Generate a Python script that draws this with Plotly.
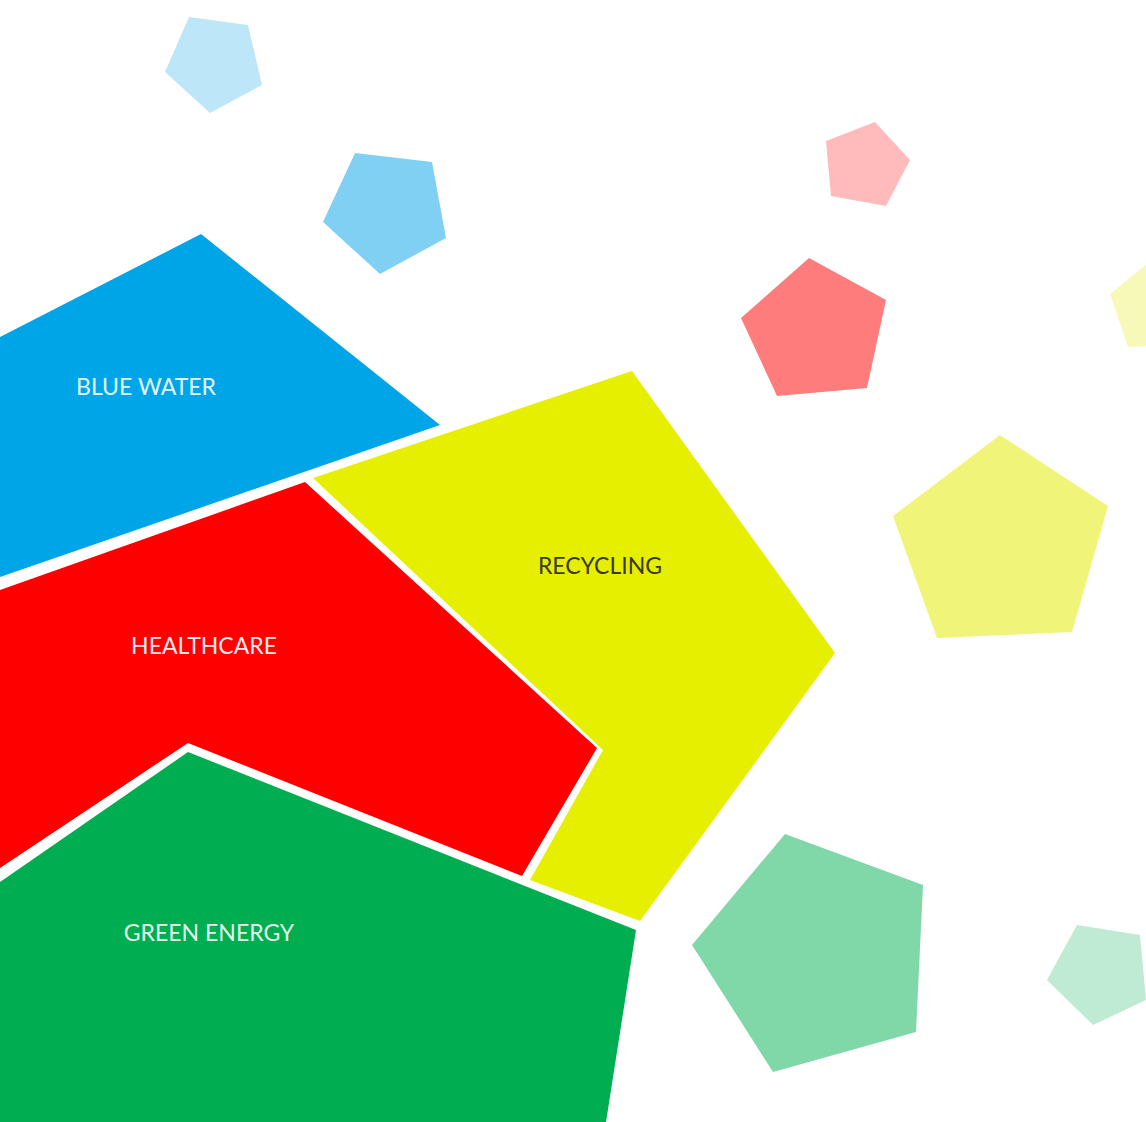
import plotly.graph_objects as go

# Main labelled shapes (vertex x / y in image units)
blue_x = [0, 201, 440, 0]
blue_y = [337, 234, 425, 577]
red_x = [0, 305, 597, 522, 188, 0]
red_y = [590, 482, 748, 876, 743, 868]
yellow_x = [313, 632, 835, 640, 530, 603]
yellow_y = [478, 371, 653, 921, 880, 750]
green_x = [0, 188, 636, 606, 0]
green_y = [882, 752, 930, 1122, 1122]

# Decorative pentagons
p_lightblue_x = [189, 248, 262, 210, 165]
p_lightblue_y = [17, 25, 85, 113, 72]
p_blue_x = [355, 432, 446, 380, 323]
p_blue_y = [153, 162, 238, 274, 222]
p_pink_x = [826, 875, 910, 886, 831]
p_pink_y = [141, 122, 160, 206, 196]
p_red_x = [741, 809, 886, 867, 777]
p_red_y = [318, 258, 300, 388, 396]
p_yellowedge_x = [1110, 1146, 1146, 1128]
p_yellowedge_y = [294, 265, 346, 347]
p_yellow_x = [893, 1000, 1108, 1072, 937]
p_yellow_y = [516, 435, 506, 632, 638]
p_green_x = [692, 785, 923, 916, 773]
p_green_y = [945, 834, 885, 1032, 1072]
p_mint_x = [1047, 1077, 1140, 1146, 1093]
p_mint_y = [980, 925, 935, 1000, 1025]

labels = ["BLUE WATER", "HEALTHCARE", "RECYCLING", "GREEN ENERGY"]
label_x = [146, 204, 600, 209]
label_y = [389, 648, 568, 935]
label_colors = ["#e3f5fc", "#ffeaea", "#3a3a1a", "#e2f6e9"]

shapes = [
    (p_lightblue_x, p_lightblue_y, "#bde6f8"),
    (p_blue_x, p_blue_y, "#80d0f4"),
    (p_pink_x, p_pink_y, "#ffbbbb"),
    (p_red_x, p_red_y, "#ff7c7c"),
    (p_yellowedge_x, p_yellowedge_y, "#f6f9b8"),
    (p_yellow_x, p_yellow_y, "#f0f57a"),
    (p_green_x, p_green_y, "#80d7a8"),
    (p_mint_x, p_mint_y, "#bfead3"),
    (blue_x, blue_y, "#00a5e8"),
    (red_x, red_y, "#ff0000"),
    (yellow_x, yellow_y, "#e6ef00"),
    (green_x, green_y, "#00ad50"),
]

fig = go.Figure()
for xs, ys, col in shapes:
    fig.add_trace(go.Scatter(
        x=xs + [xs[0]], y=ys + [ys[0]], mode="lines", fill="toself",
        fillcolor=col, line=dict(width=0, color=col), hoverinfo="skip",
        showlegend=False))

fig.add_trace(go.Scatter(
    x=label_x, y=label_y, mode="text", text=labels,
    textfont=dict(family="Lato, Open Sans, sans-serif", size=23, color=label_colors),
    hoverinfo="skip", showlegend=False))

fig.update_layout(
    width=1146, height=1122,
    margin=dict(l=0, r=0, t=0, b=0),
    paper_bgcolor="white", plot_bgcolor="white",
    xaxis=dict(range=[0, 1146], visible=False, fixedrange=True),
    yaxis=dict(range=[1122, 0], visible=False, fixedrange=True),
)
fig.write_html(
    "out.html",
    config={"displayModeBar": False},
    post_script="document.body.style.margin='0';document.body.style.overflow='hidden';",
)
